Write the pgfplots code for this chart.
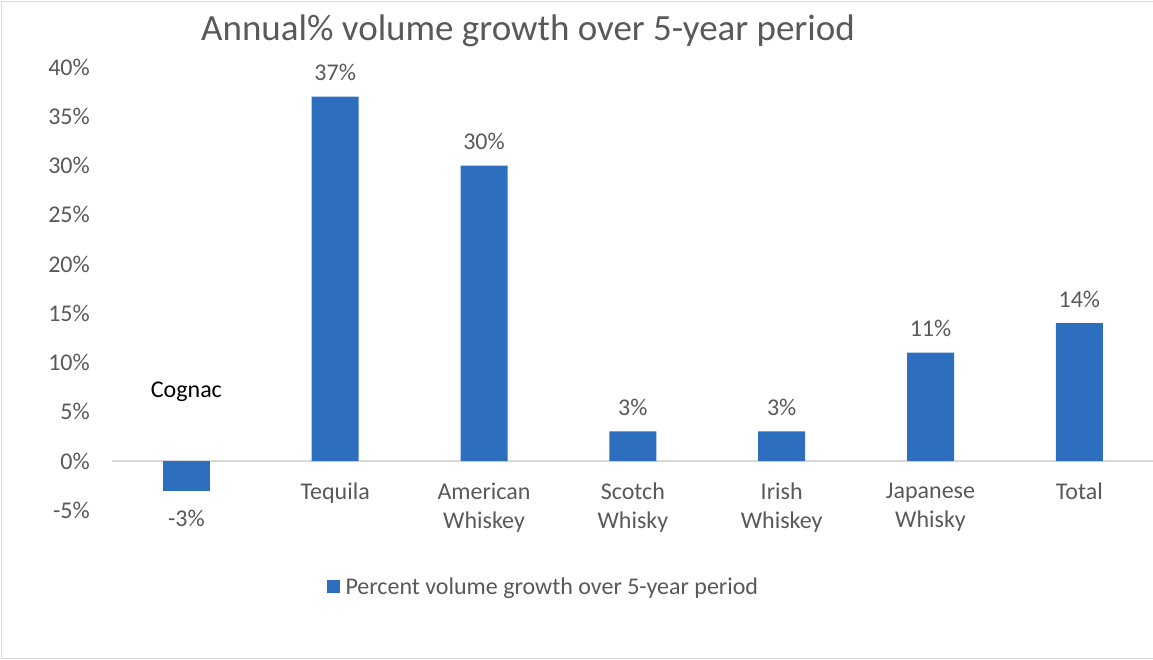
\documentclass[border=0pt]{standalone}
\usepackage{pgfplots}
\pgfplotsset{compat=1.18}
\usepackage{fontspec}
\setmainfont{Carlito}
\definecolor{barblue}{HTML}{2D6EBE}
\definecolor{txtgray}{HTML}{595959}
\definecolor{lngray}{HTML}{D9D9D9}
\begin{document}
\begin{tikzpicture}
\begin{axis}[
  at={(112pt,-510.3pt)}, anchor=south west,
  scale only axis, width=1041.8pt, height=443.3pt,
  xmin=-0.5, xmax=6.5, ymin=-5, ymax=40,
  axis line style={draw=none}, tick style={draw=none},
  xtick={0,1,2,3,4,5,6},
  xticklabels={{},Tequila,American\\Whiskey,Scotch\\Whisky,Irish\\Whiskey,Japanese\\Whisky,Total},
  xticklabel style={font=\fontsize{24}{29}\selectfont, text=txtgray, align=center, anchor=north, inner sep=0pt, yshift=32pt},
  ytick={-5,0,5,10,15,20,25,30,35,40},
  yticklabels={-5\%,0\%,5\%,10\%,15\%,20\%,25\%,30\%,35\%,40\%},
  yticklabel style={font=\fontsize{24}{28}\selectfont, text=txtgray, anchor=east, inner sep=0pt, xshift=-22pt},
  ybar, bar width=47pt,
  /pgf/number format/assume math mode=true,
  nodes near coords={\pgfmathprintnumber{\pgfplotspointmeta}\%},
  every node near coord/.append style={font=\fontsize{24}{28}\selectfont, text=txtgray},
  legend style={draw=none, font=\fontsize{24}{28}\selectfont, text=txtgray, at={(0.414,-0.173)}, anchor=center},
  legend image code/.code={\fill[barblue] (-6pt,-6.5pt) rectangle (7pt,6.5pt);},
  clip=false,
]
\draw[lngray, line width=1.2pt] (axis cs:-0.5,0) -- (axis cs:6.5,0);
\addplot[fill=barblue, draw=none, bar shift=0pt,
  every node near coord/.append style={yshift=12pt}]
  coordinates {(1,37) (2,30) (3,3) (4,3) (5,11) (6,14)};
\addlegendentry{\hspace{4pt}Percent volume growth over 5-year period}
\addplot[fill=barblue, draw=none, bar shift=0pt, forget plot,
  every node near coord/.append style={yshift=-16pt}]
  coordinates {(0,-3)};
\node[font=\fontsize{24}{28}\selectfont, text=black] at (axis cs:0,7) {Cognac};
\end{axis}
\node[font=\fontsize{37}{42}\selectfont, text=txtgray] at (528pt,-31pt) {Annual\% volume growth over 5-year period};
\draw[lngray, line width=1.5pt] (1.5pt,-1.5pt) rectangle (1170pt,-658.5pt);
\pgfresetboundingbox
\path[use as bounding box] (0pt,0pt) rectangle (1153pt,-660pt);
\end{tikzpicture}
\end{document}
